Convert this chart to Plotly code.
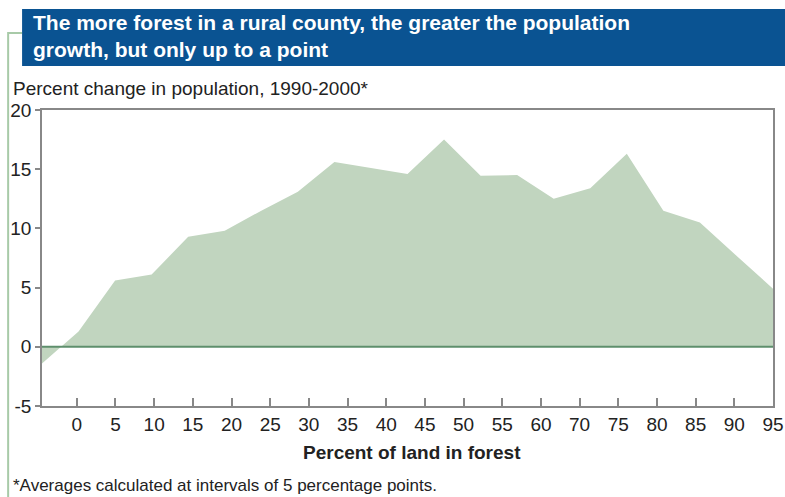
import numpy as np
import plotly.graph_objects as go

# ---- data ----
tick_labels = ["0", "5", "10", "15", "20", "25", "30", "35", "40", "45",
               "50", "55", "60", "70", "75", "80", "85", "90", "95"]
y_ticks = [-5, 0, 5, 10, 15, 20]
y_tick_labels = ["-5", "0", "5", "10", "15", "20"]
pop_change = [-1.4, 1.3, 5.6, 6.1, 9.3, 9.8, 11.5, 13.1, 15.6, 15.1, 14.6,
              17.5, 14.45, 14.5, 12.5, 13.4, 16.3, 11.5, 10.5, 7.7, 4.9]

# page is captured ~793 css px wide and shown at 785, so lay out on 793
REF_W, H = 785, 497
W = 793
S = W / REF_W
L, R, T, B = 42 * S, 776 * S, 110, 406  # plot area in page pixels

FONT = "Liberation Sans, Arial, Helvetica, sans-serif"

tick_pos = [5 * i for i in range(len(tick_labels))]
x_lo, x_hi = -4.5, tick_pos[-1]
x_data = np.linspace(x_lo, x_hi, len(pop_change))


def px(x):
    """reference-image x pixel -> paper coordinate"""
    return (x * S - L) / (R - L)


def py(y):
    return (B - y) / (B - T)


fig = go.Figure()
fig.add_trace(go.Scatter(
    x=x_data, y=pop_change, mode="lines", fill="tozeroy",
    fillcolor="#c1d5bf", line=dict(width=0, color="#c1d5bf"),
    hoverinfo="skip", showlegend=False))

shapes = [
    # zero line
    dict(type="line", xref="paper", yref="y", x0=0, x1=1, y0=0, y1=0,
         line=dict(color="#5e8f6c", width=2), layer="above"),
    # green bracket
    dict(type="path", xref="paper", yref="paper",
         path=f"M {px(8)} {py(500)} L {px(8)} {py(33)} L {px(22)} {py(33)}",
         line=dict(color="#a8caa8", width=2)),
    # banner
    dict(type="rect", xref="paper", yref="paper",
         x0=px(22), x1=px(790), y0=py(66), y1=py(9),
         fillcolor="#0a5392", line=dict(width=0)),
]

annotations = [
    dict(xref="paper", yref="paper", x=px(31), y=py(36), xanchor="left", yanchor="middle",
         text="<b>The more forest in a rural county, the greater the population<br>growth, but only up to a point</b>",
         showarrow=False, align="left", font=dict(family=FONT, size=21, color="white")),
    dict(xref="paper", yref="paper", x=px(11), y=py(88), xanchor="left", yanchor="middle",
         text="Percent change in population, 1990-2000*", showarrow=False,
         font=dict(family=FONT, size=19, color="#222222")),
    dict(xref="paper", yref="paper", x=px(414), y=py(452), xanchor="center", yanchor="middle",
         text="<b>Percent of land in forest</b>", showarrow=False,
         font=dict(family=FONT, size=19, color="#222222")),
    dict(xref="paper", yref="paper", x=px(11), y=py(485), xanchor="left", yanchor="middle",
         text="*Averages calculated at intervals of 5 percentage points.", showarrow=False,
         font=dict(family=FONT, size=17, color="#222222")),
]

fig.update_layout(
    width=W, height=H,
    margin=dict(l=L, r=W - R, t=T, b=H - B, pad=0),
    paper_bgcolor="white", plot_bgcolor="white",
    shapes=shapes, annotations=annotations,
    font=dict(family=FONT, size=19, color="#222222"),
    xaxis=dict(range=[x_lo, x_hi], tickvals=tick_pos, ticktext=tick_labels,
               ticks="inside", ticklen=8, tickcolor="#888888", tickwidth=1.5,
               ticklabelstandoff=0,
               showgrid=False, zeroline=False, showline=True, linecolor="#888888",
               linewidth=1.5, mirror=True, tickfont=dict(size=19)),
    yaxis=dict(range=[-5, 20], tickvals=y_ticks, ticktext=y_tick_labels,
               ticks="outside", ticklen=5, tickcolor="#888888", tickwidth=1.5,
               showgrid=False, zeroline=False, showline=True, linecolor="#888888",
               linewidth=1.5, mirror=True, tickfont=dict(size=19)),
)

fig.write_html("out.html", config={"displayModeBar": False},
               post_script="document.body.style.margin='0px';document.documentElement.style.overflow='hidden';")
